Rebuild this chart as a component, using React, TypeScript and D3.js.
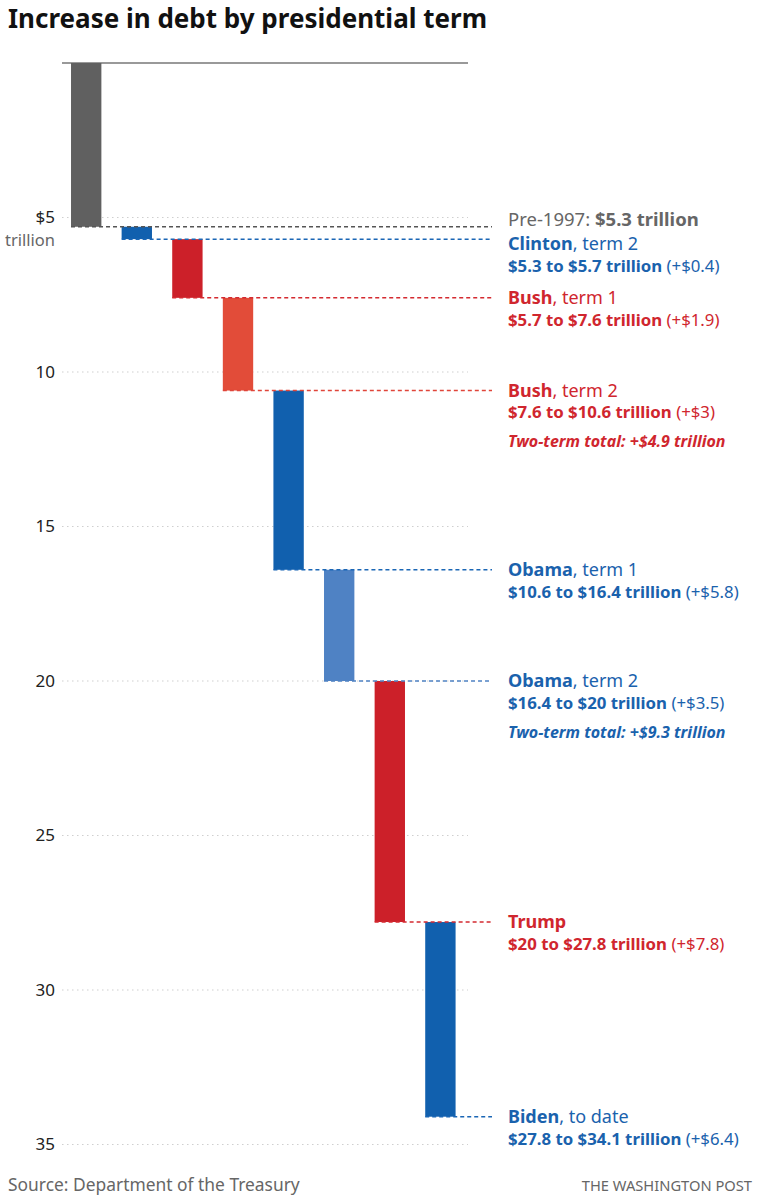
import * as React from "react";
import * as d3 from "d3";

// one entry per bar, top to bottom
const keys = ["pre", "clinton2", "bush1", "bush2", "obama1", "obama2", "trump", "biden"];
const names = ["Pre-1997", "Clinton", "Bush", "Bush", "Obama", "Obama", "Trump", "Biden"];
const terms = ["", ", term 2", ", term 1", ", term 2", ", term 1", ", term 2", "", ", to date"];
const starts = [0, 5.3, 5.7, 7.6, 10.6, 16.4, 20, 27.8];
const ends = [5.3, 5.7, 7.6, 10.6, 16.4, 20, 27.8, 34.1];
const changes = [5.3, 0.4, 1.9, 3, 5.8, 3.5, 7.8, 6.4];
const twoTermTotals = [null, null, null, 4.9, null, 9.3, null, null];

const yTicks = [5, 10, 15, 20, 25, 30, 35];

const barColors = ["#606060", "#1160ae", "#cc2029", "#e24c39", "#1160ae", "#4f82c4", "#cc2029", "#1160ae"];
const lineColors = ["#555555", "#1a66b5", "#d42a30", "#e0453a", "#1a66b5", "#4f82c4", "#d42a30", "#1a66b5"];
const textColors = ["#666666", "#1a62ad", "#d0262e", "#d0262e", "#1a62ad", "#1a62ad", "#d0262e", "#1a62ad"];

// small nudges so neighbouring labels do not collide
const labelNudge = [-7, 5, 0, 0, 0, 0, 0, 0];

const W = 758;
const H = 1200;
const FONT = "'Noto Sans', Roboto, sans-serif";

export default function App() {
  const x = d3.scaleBand<string>().domain(keys).range([60.9, 465.7]).paddingInner(0.4).paddingOuter(0.2);
  const y = d3.scaleLinear().domain([0, 35]).range([63, 1144.5]);
  const fmt = (v: number) => d3.format("~g")(v);

  const gridX0 = 62;
  const gridX1 = 468;
  const leaderX1 = 492;
  const labelX = 508;

  return (
    <svg
      width={W}
      height={H}
      style={{ position: "absolute", left: 0, top: 0, background: "#fff" }}
      fontFamily={FONT}
    >
      <text x={8} y={28} fontSize={26} fontWeight={700} fill="#111">
        Increase in debt by presidential term
      </text>

      {/* gridlines and y ticks */}
      {yTicks.map((t) => (
        <g key={t}>
          <line x1={gridX0} x2={gridX1} y1={y(t)} y2={y(t)} stroke="#cfcfcf" strokeWidth={1} strokeDasharray="1.5,3.5" />
          <text x={55} y={y(t)} dy="0.35em" textAnchor="end" fontSize={17} fill="#222">
            {t === 5 ? "$5" : t}
          </text>
        </g>
      ))}
      <text x={55} y={y(5) + 23} dy="0.35em" textAnchor="end" fontSize={16.5} fill="#666">
        trillion
      </text>

      {/* zero line */}
      <line x1={gridX0} x2={gridX1} y1={y(0)} y2={y(0)} stroke="#999" strokeWidth={2} />

      {/* bars */}
      {keys.map((k, i) => (
        <rect
          key={k}
          x={x(k)}
          y={y(starts[i])}
          width={x.bandwidth()}
          height={y(ends[i]) - y(starts[i])}
          fill={barColors[i]}
        />
      ))}

      {/* leader lines */}
      {keys.map((k, i) => (
        <line
          key={k}
          x1={x(k)}
          x2={leaderX1}
          y1={y(ends[i])}
          y2={y(ends[i])}
          stroke={lineColors[i]}
          strokeWidth={1.5}
          strokeDasharray="4,3"
        />
      ))}

      {/* labels */}
      {keys.map((k, i) => {
        const ly = y(ends[i]) + labelNudge[i];
        const c = textColors[i];
        if (i === 0) {
          return (
            <text key={k} x={labelX} y={ly} dy="0.35em" fontSize={18.5} fill={c}>
              {names[i]}: <tspan fontWeight={700}>${fmt(ends[i])} trillion</tspan>
            </text>
          );
        }
        return (
          <g key={k} fill={c}>
            <text x={labelX} y={ly} dy="0.35em" fontSize={18}>
              <tspan fontWeight={700}>{names[i]}</tspan>
              {terms[i]}
            </text>
            <text x={labelX} y={ly + 22} dy="0.35em" fontSize={16.8}>
              <tspan fontWeight={700}>
                ${fmt(starts[i])} to ${fmt(ends[i])} trillion
              </tspan>{" "}
              (+${fmt(changes[i])})
            </text>
            {twoTermTotals[i] != null && (
              <text x={labelX} y={ly + 51} dy="0.35em" fontSize={16} fontWeight={700} fontStyle="italic">
                Two-term total: +${fmt(twoTermTotals[i] as number)} trillion
              </text>
            )}
          </g>
        );
      })}

      {/* footer */}
      <text x={8} y={1185} dy="0.35em" fontSize={17.4} fill="#666">
        Source: Department of the Treasury
      </text>
      <text x={752} y={1186} dy="0.35em" textAnchor="end" fontSize={14.7} fill="#666">
        THE WASHINGTON POST
      </text>
    </svg>
  );
}
